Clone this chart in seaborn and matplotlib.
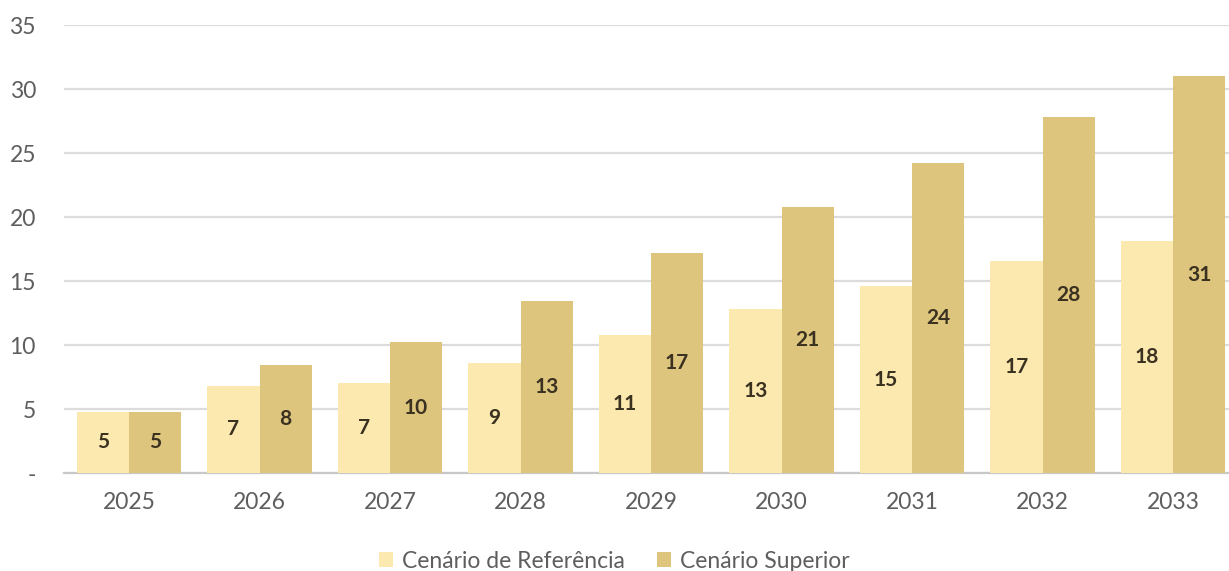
import matplotlib
matplotlib.use("Agg")
import matplotlib.pyplot as plt
import seaborn as sns
import pandas as pd
from matplotlib.ticker import FixedLocator, FuncFormatter

# Projected values per year for both scenarios
anos = ["2025", "2026", "2027", "2028", "2029", "2030", "2031", "2032", "2033"]
cenario_referencia = [4.8, 6.8, 7.0, 8.6, 10.8, 12.8, 14.6, 16.6, 18.1]
cenario_superior = [4.8, 8.4, 10.2, 13.4, 17.2, 20.8, 24.2, 27.8, 31.0]
nomes_cenarios = ["Cenário de Referência", "Cenário Superior"]
cores = ["#FCE9AF", "#DEC57D"]
yticks = [0, 5, 10, 15, 20, 25, 30, 35]

df = pd.DataFrame({
    "ano": anos * 2,
    "valor": cenario_referencia + cenario_superior,
    "cenario": [nomes_cenarios[0]] * len(anos) + [nomes_cenarios[1]] * len(anos),
})

sns.set_theme(style="white")
plt.rcParams["font.family"] = ["Lato", "DejaVu Sans"]

W, H = 1229, 571
fig = plt.figure(figsize=(W / 100, H / 100), dpi=100)
ax = fig.add_axes([63.75 / W, (H - 473) / H, 1174.5 / W, 448 / H])

sns.barplot(data=df, x="ano", y="valor", hue="cenario", palette=cores,
            saturation=1, width=0.8, ax=ax, legend=True, zorder=3,
            linewidth=0, edgecolor="none")

for cont in ax.containers:
    ax.bar_label(cont, labels=[f"{b.get_height():.0f}" for b in cont],
                 label_type="center", fontsize=15, fontweight="bold",
                 color="#3A3121")

ax.set_xlim(-0.5, len(anos) - 0.5)
ax.set_ylim(0, 35)
ax.yaxis.set_major_locator(FixedLocator(yticks))
ax.yaxis.set_major_formatter(FuncFormatter(lambda v, p: "-" if v == 0 else f"{v:.0f}"))
ax.yaxis.grid(True, color="#DCDCDC", linewidth=1.6, zorder=0)
ax.set_axisbelow(True)
for s in ["top", "right", "left"]:
    ax.spines[s].set_visible(False)
ax.spines["bottom"].set_color("#C8C8C8")
ax.spines["bottom"].set_linewidth(1.6)
ax.tick_params(axis="both", length=0, labelsize=16.5, labelcolor="#5E5E5E")
ax.tick_params(axis="x", pad=14)
ax.tick_params(axis="y", pad=20)
ax.set_xlabel("")
ax.set_ylabel("")

handles, labels = ax.get_legend_handles_labels()
ax.legend_.remove()
fig.legend(handles, labels, loc="center", bbox_to_anchor=(0.5, 0.017),
           ncol=2, frameon=False, fontsize=16.5, labelcolor="#5E5E5E",
           handlelength=0.6, handleheight=0.6, handletextpad=0.4,
           columnspacing=1.4)

fig.savefig("out.png", dpi=100)
